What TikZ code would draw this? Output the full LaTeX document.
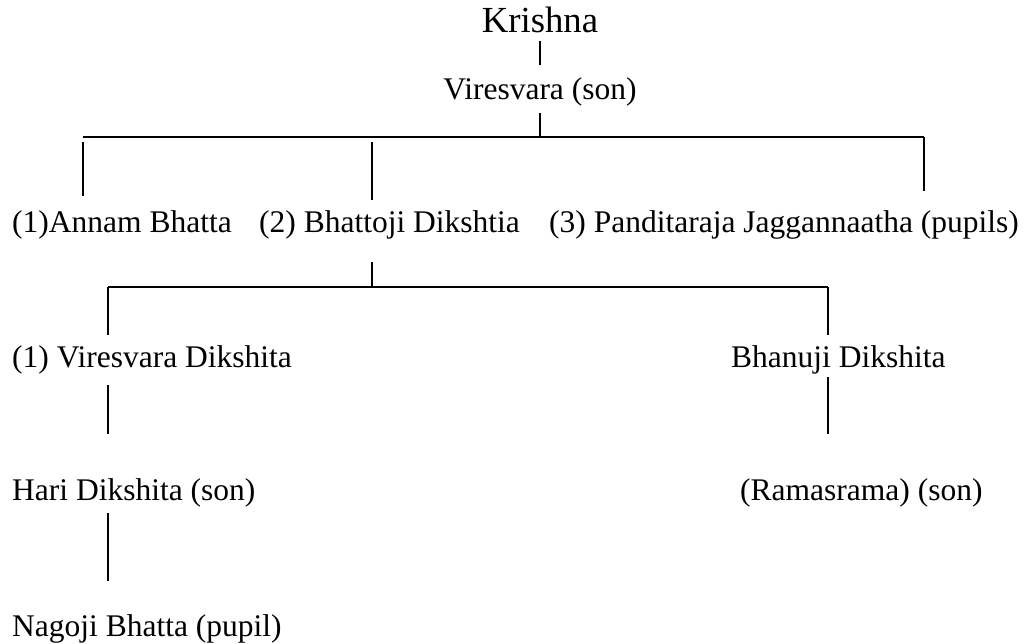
\documentclass[tikz,border=0pt]{standalone}
\usepackage{fontspec}
\setmainfont{Liberation Serif}
\usetikzlibrary{calc}

\tikzset{person/.style={font=\fontsize{31.5}{36}\selectfont, inner sep=0pt},
         link/.style={line width=1.6pt}}

\begin{document}
\begin{tikzpicture}[x=1pt, y=-1pt]
\useasboundingbox (0,0) rectangle (1030,644);
\node[person, anchor=base, font=\fontsize{36.75}{42}\selectfont] (K) at (540,33) {Krishna};
\node[person, anchor=base] (V) at (540,100) {Viresvara (son)};
\node[person, anchor=base west] (A) at (12,233) {(1)Annam Bhatta};
\node[person, anchor=base west] (B) at (259,233) {(2) Bhattoji Dikshtia};
\node[person, anchor=base west] (P) at (549,233) {(3) Panditaraja Jaggannaatha (pupils)};
\node[person, anchor=base west] (VD) at (12,367) {(1) Viresvara Dikshita};
\node[person, anchor=base west] (BD) at (731,367) {Bhanuji Dikshita};
\node[person, anchor=base west] (H) at (12,500) {Hari Dikshita (son)};
\node[person, anchor=base west] (R) at (740,500) {(Ramasrama) (son)};
\node[person, anchor=base west] (N) at (12,636) {Nagoji Bhatta (pupil)};
\coordinate (s0) at (540,137);
\coordinate (s1) at (83,137);
\coordinate (s2) at (372,137);
\coordinate (s3) at (924,137);
\coordinate (t0) at (372,287);
\coordinate (t1) at (108,287);
\coordinate (t2) at (828,287);
\draw[link] ($(K.base)+(0,8)$) -- ($(V.base)+(0,-35)$);
\draw[link] ($(V.base)+(0,13)$) -- (s0);
\draw[link] (s1) -- (s3);
\draw[link] ($(s1)+(0,5)$) -- ($(s1 |- A.base)+(0,-37)$);
\draw[link] ($(s2)+(0,5)$) -- ($(s2 |- B.base)+(0,-33)$);
\draw[link] (s3) -- ($(s3 |- P.base)+(0,-42)$);
\draw[link] ($(t0 |- B.base)+(0,29)$) -- (t0);
\draw[link] (t1) -- (t2);
\draw[link] (t1) -- ($(t1 |- VD.base)+(0,-32)$);
\draw[link] (t2) -- ($(t2 |- BD.base)+(0,-32)$);
\draw[link] ($(t1 |- VD.base)+(0,18)$) -- ($(t1 |- H.base)+(0,-66)$);
\draw[link] ($(t2 |- BD.base)+(0,10)$) -- ($(t2 |- R.base)+(0,-66)$);
\draw[link, line width=1.3pt] ($(t1 |- H.base)+(0,13)$) -- ($(t1 |- N.base)+(0,-55)$);
\end{tikzpicture}
\end{document}
